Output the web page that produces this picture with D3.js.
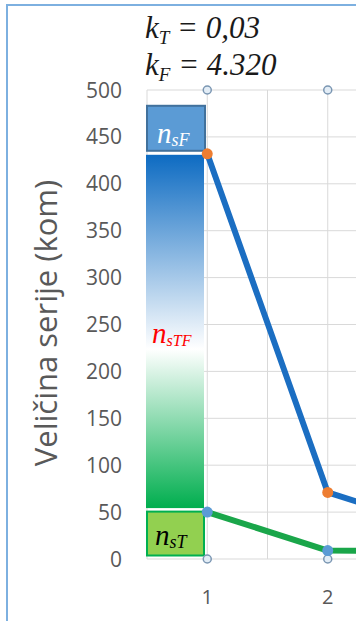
<!DOCTYPE html>
<html>
<head>
<meta charset="utf-8">
<script src="https://cdn.jsdelivr.net/npm/d3@7/dist/d3.min.js"></script>
<style>
  html, body { margin: 0; padding: 0; background: #ffffff; }
  svg { display: block; }
</style>
</head>
<body>
<svg id="chart" width="356" height="621"></svg>
<script>
// Series: order quantity per run number
const runs = [1, 2, 3];
const seriesF = [432, 71, 30];   // n_sF line (blue, orange markers)
const seriesT = [50, 9, 8];      // n_sT line (green, blue markers)
const guideTop = [500, 500, 500];
const guideBottom = [0, 0, 0];
const yTicks = [0, 50, 100, 150, 200, 250, 300, 350, 400, 450, 500];
const xTickLabels = [1, 2];
const kT = "0,03";
const kF = "4.320";
const nsF = 432;
const nsT = 50;

const svg = d3.select("#chart");
const W = 356, H = 621;

const x = d3.scaleLinear().domain([0.5, 3.5]).range([147, 508.5]);
const y = d3.scaleLinear().domain([0, 500]).range([559, 90]);

const defs = svg.append("defs");
const clip = defs.append("clipPath").attr("id", "plotclip");
clip.append("rect").attr("x", 0).attr("y", 0).attr("width", W).attr("height", H);

const grad = defs.append("linearGradient")
  .attr("id", "tfGrad").attr("x1", 0).attr("y1", 0).attr("x2", 0).attr("y2", 1);
grad.append("stop").attr("offset", "0%").attr("stop-color", "#0d6bc2");
grad.append("stop").attr("offset", "55%").attr("stop-color", "#ffffff");
grad.append("stop").attr("offset", "100%").attr("stop-color", "#00ae4e");

// Outer frame
svg.append("rect")
  .attr("x", 7).attr("y", 5).attr("width", 400).attr("height", 700)
  .attr("fill", "none").attr("stroke", "#7db0e0").attr("stroke-width", 2);

const plot = svg.append("g").attr("clip-path", "url(#plotclip)");

// Gridlines
plot.append("g").selectAll("line").data(yTicks).join("line")
  .attr("x1", x(0.5)).attr("x2", W)
  .attr("y1", d => y(d)).attr("y2", d => y(d))
  .attr("stroke", "#d9d9d9").attr("stroke-width", 1);

const xGrid = d3.range(0.5, 3.01, 0.5);
plot.append("g").selectAll("line").data(xGrid).join("line")
  .attr("x1", d => x(d)).attr("x2", d => x(d))
  .attr("y1", y(500)).attr("y2", y(0))
  .attr("stroke", "#d9d9d9").attr("stroke-width", 1);

// Gradient band between n_sT and n_sF
const barX0 = x(0.5) - 1, barX1 = x(0.5) + 57;
plot.append("rect")
  .attr("x", barX0).attr("y", y(nsF) + 1)
  .attr("width", barX1 - barX0).attr("height", y(nsT) - y(nsF) - 5)
  .attr("fill", "url(#tfGrad)");

// n_sF box
plot.append("rect")
  .attr("x", barX0 + 1).attr("y", y(nsF) - 48)
  .attr("width", barX1 - barX0).attr("height", 45)
  .attr("fill", "#5b9bd5").attr("stroke", "#41719c").attr("stroke-width", 2);

// n_sT box
plot.append("rect")
  .attr("x", barX0 + 1).attr("y", y(nsT) - 0.5)
  .attr("width", barX1 - barX0 - 1).attr("height", y(0) - y(nsT) - 3)
  .attr("fill", "#92d050").attr("stroke", "#00b050").attr("stroke-width", 2);

// Lines
const line = d3.line().x((d, i) => x(runs[i])).y(d => y(d));
plot.append("path").datum(seriesF)
  .attr("d", line).attr("fill", "none")
  .attr("stroke", "#1b6ec2").attr("stroke-width", 6)
  .attr("stroke-linejoin", "round");
plot.append("path").datum(seriesT)
  .attr("d", line).attr("fill", "none")
  .attr("stroke", "#1aa64a").attr("stroke-width", 6)
  .attr("stroke-linejoin", "round");

// Hollow guide markers at 0 and 500
[guideTop, guideBottom].forEach(s => {
  plot.append("g").selectAll("circle").data(s).join("circle")
    .attr("cx", (d, i) => x(runs[i])).attr("cy", d => y(d)).attr("r", 4)
    .attr("fill", "#e3edf6").attr("stroke", "#7a96b2").attr("stroke-width", 1.5);
});

// Line markers
plot.append("g").selectAll("circle").data(seriesT).join("circle")
  .attr("cx", (d, i) => x(runs[i])).attr("cy", d => y(d)).attr("r", 5.5)
  .attr("fill", "#5b9bd5");
plot.append("g").selectAll("circle").data(seriesF).join("circle")
  .attr("cx", (d, i) => x(runs[i])).attr("cy", d => y(d)).attr("r", 5.5)
  .attr("fill", "#ed7d31");

// Y axis labels
svg.append("g").selectAll("text").data(yTicks).join("text")
  .attr("x", 122).attr("y", d => y(d)).attr("dy", "0.36em")
  .attr("text-anchor", "end")
  .attr("font-family", "Open Sans, sans-serif").attr("font-size", 21)
  .attr("fill", "#595959")
  .text(d => d);

// X axis labels
svg.append("g").selectAll("text").data(xTickLabels).join("text")
  .attr("x", d => x(d)).attr("y", 604)
  .attr("text-anchor", "middle")
  .attr("font-family", "Open Sans, sans-serif").attr("font-size", 20)
  .attr("fill", "#595959")
  .text(d => d);

// Y axis title
svg.append("text")
  .attr("transform", "translate(57,323) rotate(-90)")
  .attr("text-anchor", "middle")
  .attr("font-family", "Open Sans, sans-serif").attr("font-size", 31)
  .attr("fill", "#595959")
  .text("Veličina serije (kom)");

// Italic serif annotations
function subLabel(px, py, sub, color, mainSize, subSize) {
  const t = svg.append("text")
    .attr("x", px).attr("y", py)
    .attr("font-family", "Liberation Serif, Times New Roman, serif")
    .attr("font-style", "italic").attr("fill", color);
  t.append("tspan").attr("font-size", mainSize).text("n");
  t.append("tspan").attr("font-size", subSize).attr("dy", 3).text(sub);
  return t;
}
subLabel(157, 143, "sF", "#ffffff", 29, 18);
subLabel(152, 343, "sTF", "#ff0000", 29, 16);
subLabel(155, 545, "sT", "#000000", 29, 18);

function kLabel(px, py, sub, val) {
  const t = svg.append("text")
    .attr("x", px).attr("y", py)
    .attr("font-family", "Liberation Serif, Times New Roman, serif")
    .attr("font-style", "italic").attr("fill", "#1a1a1a").attr("font-size", 31);
  t.append("tspan").text("k");
  t.append("tspan").attr("font-size", 19).attr("dy", 6).text(sub);
  t.append("tspan").attr("dy", -6).text(" = " + val);
}
kLabel(145, 38, "T", kT);
kLabel(145, 75, "F", kF);
</script>
</body>
</html>
